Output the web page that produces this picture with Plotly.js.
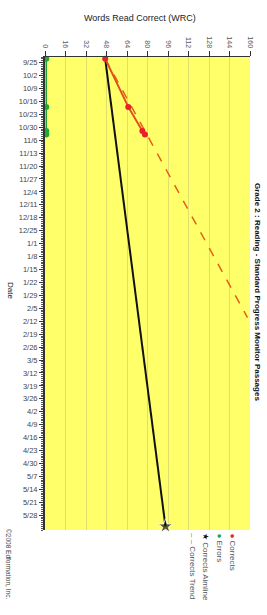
<!DOCTYPE html>
<html>
<head>
<meta charset="utf-8">
<script src="https://cdn.plot.ly/plotly-3.0.1.min.js"></script>
<style>html,body{margin:0;padding:0;background:#fff;}#chart{width:267px;height:615px;}</style>
</head>
<body>
<div id="chart"></div>
<script>
// ---- data ----
const probeDates = ['2008-09-23', '2008-10-19', '2008-11-01', '2008-11-03'];
const correctsValues = [47, 65, 76, 78];
const errorsValues = [1, 1, 1, 1];
const aimlineDates = ['2008-09-23', '2009-06-03'];
const aimlineValues = [47, 94];
const trendDates = ['2008-09-23', '2009-02-10'];
const trendValues = [47, 158];
const wrcTicks = [0, 16, 32, 48, 64, 80, 96, 112, 128, 144, 160];
const dateTickLabels = ['9/25', '10/2', '10/9', '10/16', '10/23', '10/30', '11/6', '11/13', '11/20', '11/27',
  '12/4', '12/11', '12/18', '12/25', '1/1', '1/8', '1/15', '1/22', '1/29', '2/5', '2/12', '2/19', '2/26',
  '3/5', '3/12', '3/19', '3/26', '4/2', '4/9', '4/16', '4/23', '4/30', '5/7', '5/14', '5/21', '5/28'];
const chartTitle = 'Grade 2 : Reading - Standard Progress Monitor Passages';
const wrcTitle = 'Words Read Correct (WRC)';
const dateTitle = 'Date';
const legendNames = ['Corrects', 'Errors', 'Corrects Aimline', 'Corrects Trend'];
const copyrightText = '©2008 Edformation, Inc.';

const FONT = 'Liberation Sans, Arial, sans-serif';

// school year: Sep-Dec in 2008, Jan-Jun in 2009
const dateTickVals = dateTickLabels.map(s => {
  const [m, d] = s.split('/').map(Number);
  const yr = m >= 8 ? 2008 : 2009;
  return yr + '-' + String(m).padStart(2, '0') + '-' + String(d).padStart(2, '0');
});

const traces = [
  {
    x: trendValues, y: trendDates, type: 'scatter', mode: 'lines',
    line: {color: '#e2601a', width: 1.5, dash: 'dash'}, hoverinfo: 'none', cliponaxis: false
  },
  {
    x: aimlineValues, y: aimlineDates, type: 'scatter', mode: 'lines+markers',
    line: {color: '#111', width: 2},
    marker: {symbol: 'star', size: [0, 11], color: '#111'},
    cliponaxis: false
  },
  {
    x: correctsValues, y: probeDates, type: 'scatter', mode: 'lines+markers',
    line: {color: '#e0501a', width: 2},
    marker: {symbol: 'circle', size: 6, color: '#e8202c'},
    cliponaxis: false
  },
  {
    x: errorsValues, y: probeDates, type: 'scatter', mode: 'lines+markers',
    line: {color: '#22a030', width: 1.5},
    marker: {symbol: 'circle', size: 6, color: '#22a838'},
    cliponaxis: false
  }
];

// plot area in pixels: x 45..250, y 57..530
const L = 45, R = 250, T = 57, B = 530;
function px(x) { return (x - L) / (R - L); }
function py(y) { return (B - y) / (B - T); }

const legendColors = ['#e8202c', '#22a838', '#111', '#e2601a'];
const legendSymbols = ['●', '●', '★', '‒ ‒'];
const legendX = [232, 219, 206, 193];

const annotations = [
  {text: wrcTitle, xref: 'paper', yref: 'paper', x: px(140), y: py(18), xanchor: 'center', yanchor: 'middle',
   showarrow: false, font: {family: FONT, size: 9, color: '#222'}},
  {text: dateTitle, xref: 'paper', yref: 'paper', x: px(11), y: py(290), xanchor: 'center', yanchor: 'middle',
   showarrow: false, textangle: 90, font: {family: FONT, size: 8, color: '#222'}},
  {text: '<b>' + chartTitle + '</b>', xref: 'paper', yref: 'paper', x: px(258), y: py(292), xanchor: 'center', yanchor: 'middle',
   showarrow: false, textangle: 90, font: {family: FONT, size: 8, color: '#111'}},
  {text: copyrightText, xref: 'paper', yref: 'paper', x: px(9), y: py(527), xanchor: 'center', yanchor: 'top',
   showarrow: false, textangle: 90, font: {family: FONT, size: 6.5, color: '#444'}}
];
legendNames.forEach((name, i) => {
  annotations.push({
    text: '<span style="color:' + legendColors[i] + '">' + legendSymbols[i] + '</span> ' + name,
    xref: 'paper', yref: 'paper', x: px(legendX[i]), y: py(531), xanchor: 'center', yanchor: 'top',
    showarrow: false, textangle: 90, font: {family: FONT, size: 8, color: '#555'}
  });
});

const layout = {
  width: 267, height: 615,
  margin: {l: L, r: 267 - R, t: T, b: 615 - B, pad: 0},
  paper_bgcolor: '#ffffff',
  plot_bgcolor: '#ffff6a',
  showlegend: false,
  font: {family: FONT, size: 8, color: '#444'},
  xaxis: {
    side: 'top', range: [0, 160], tickvals: wrcTicks, tickangle: 90,
    ticks: 'outside', ticklen: 5, tickcolor: '#333', tickwidth: 1,
    showline: true, linecolor: '#333', linewidth: 1.5,
    showgrid: true, gridcolor: 'rgba(150,150,110,0.3)', gridwidth: 1,
    zeroline: false, tickfont: {family: FONT, size: 7, color: '#555'}, fixedrange: true
  },
  yaxis: {
    type: 'date', range: ['2009-06-05', '2008-09-22'],
    tickmode: 'array', tickvals: dateTickVals, ticktext: dateTickLabels,
    ticks: 'outside', ticklen: 4, tickcolor: '#333',
    minor: {dtick: 86400000, tick0: '2008-09-25', ticks: 'outside', ticklen: 2, tickcolor: '#555', showgrid: false},
    showline: true, linecolor: '#333', linewidth: 2,
    showgrid: false, zeroline: false,
    tickfont: {family: FONT, size: 7.5, color: '#444'}, fixedrange: true
  },
  annotations: annotations
};

Plotly.newPlot('chart', traces, layout, {displayModeBar: false, staticPlot: true});
</script>
</body>
</html>
